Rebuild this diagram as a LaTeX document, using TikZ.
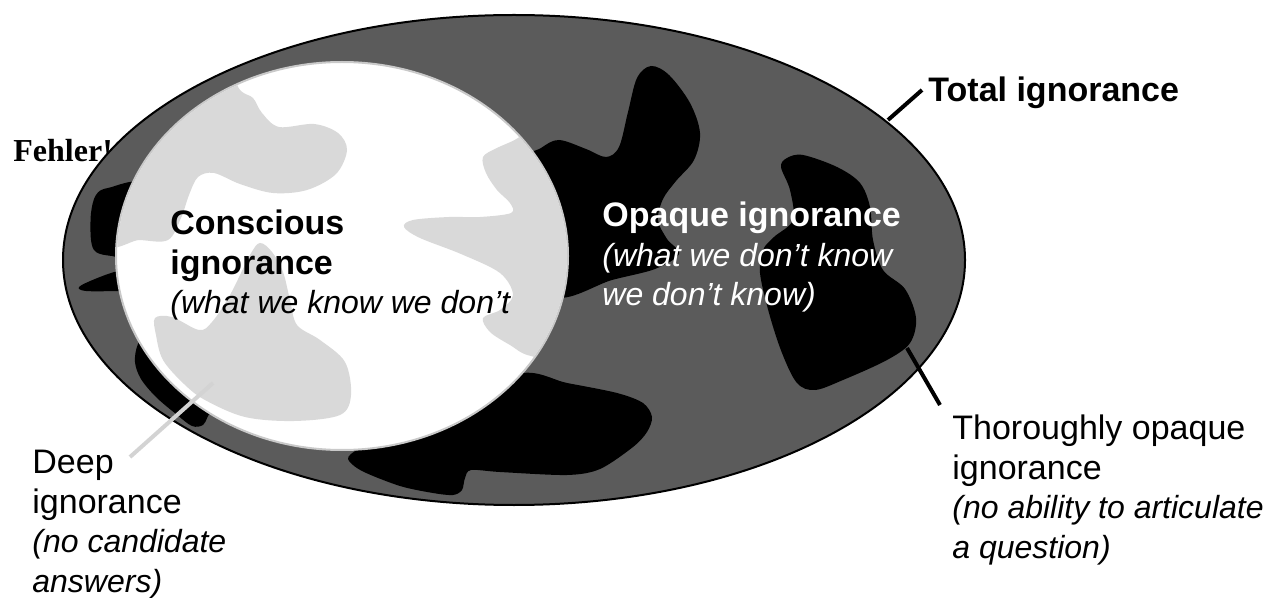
\documentclass[tikz,border=0pt]{standalone}
\usepackage{fontspec}
\setmainfont{Liberation Sans}
\newfontfamily\fehlerfont{Liberation Serif}
\usepackage{tikz}
\usetikzlibrary{positioning}

\definecolor{outergray}{HTML}{5B5B5B}
\definecolor{patchgray}{HTML}{D9D9D9}
\definecolor{rimgray}{HTML}{C9C9C9}
\definecolor{leadgray}{HTML}{D3D3D3}
\newcommand{\smit}{\fontsize{16}{19.75}\selectfont\itshape}

\begin{document}
\begin{tikzpicture}[x=0.5pt, y=-0.5pt,
    txt/.style={anchor=base west, inner sep=0pt, align=left, font=\fontsize{17}{19.75}\selectfont},
    lead/.style={line width=2pt},
    blob/.style={fill=black},
    patch/.style={fill=patchgray}]
  \useasboundingbox (0,0) rectangle (1273,598);

  % broken cross-reference, hidden behind the big ellipse
  \node[txt, font=\fehlerfont\bfseries\fontsize{16}{19}\selectfont] (fehler) at (13,162) {Fehler!};

  % total ignorance
  \filldraw[fill=outergray, draw=black, line width=1pt] (514,260) ellipse [x radius=225.5pt, y radius=122.5pt];

  % opaque regions
  \fill[blob] plot[smooth cycle, tension=0.55] coordinates {(145,186) (108,188) (96,195) (91,213) (91,240) (96,252) (112,256) (145,258)};
  \fill[blob] plot[smooth cycle, tension=0.55] coordinates {(145,267) (118,271) (95,279) (79,287) (86,291) (118,291) (145,290)};
  \fill[blob] plot[smooth cycle, tension=0.55] coordinates {(150,328) (138,344) (135,362) (141,379) (156,397) (176,414) (192,426) (203,425) (208,416) (218,395) (175,340)};
  \fill[blob] plot[smooth cycle, tension=0.55] coordinates {(520,165) (541,148) (559,140) (586,149) (606,157) (619,147) (628,112) (637,78) (651,66) (669,75) (690,103) (700,133) (694,160) (676,181) (663,199) (658,220) (667,239) (679,254) (655,269) (612,280) (555,296) (535,230)};
  \fill[blob] plot[smooth cycle, tension=0.55] coordinates {(787,158) (803,155) (837,167) (860,183) (870,207) (873,240) (883,270) (905,289) (916,318) (910,343) (887,360) (843,380) (815,390) (797,383) (782,353) (769,313) (760,273) (763,250) (774,237) (793,220) (790,190) (781,167)};
  \fill[blob] plot[smooth cycle, tension=0.5] coordinates {(420,420) (517,374) (567,383) (617,393) (643,403) (652,417) (647,432) (633,447) (600,469) (567,475) (500,472) (471,470) (465,478) (462,490) (453,495) (433,493) (400,486) (362,471) (348,459) (357,450) (375,446)};

  % conscious ignorance
  \filldraw[fill=white, draw=rimgray, line width=1pt] (342,256) ellipse [x radius=113pt, y radius=97pt];
  \begin{scope}
    \clip (342,256) ellipse [x radius=112.5pt, y radius=96.5pt];
    \fill[patch] plot[smooth cycle, tension=0.55] coordinates {(215,60) (240,90) (253,98) (262,113) (279,127) (314,124) (338,133) (347,150) (336,174) (307,190) (273,193) (240,184) (214,173) (198,177) (189,195) (181,218) (168,240) (140,240) (100,236) (100,80)};
    \fill[patch] plot[smooth cycle, tension=0.55] coordinates {(540,120) (518,138) (497,148) (483,157) (486,173) (497,190) (510,203) (511,213) (480,217) (449,217) (413,220) (404,227) (420,238) (461,254) (500,273) (513,295) (500,310) (483,318) (490,332) (510,345) (531,356) (580,360) (600,250) (580,130)};
    \fill[patch] plot[smooth cycle, tension=0.55] coordinates {(260,243) (272,252) (283,272) (290,300) (297,325) (320,340) (345,362) (351,395) (340,415) (294,421) (245,417) (205,400) (184,384) (163,360) (156,335) (155,318) (172,317) (199,330) (212,322) (230,295) (250,255)};
  \end{scope}

  % multi-line labels sit on the baseline of their last line
  \node[txt] (con) at (170,314) {{\bfseries Conscious}\\{\bfseries ignorance}\\{\smit (what we know we don’t}};
  \node[txt, text=white] (opq) at (602,306) {{\bfseries Opaque ignorance}\\{\smit (what we don’t know}\\{\smit we don’t know)}};
  \node[txt, font=\bfseries\fontsize{17}{19.75}\selectfont] (tot) at (928,102) {Total ignorance};
  \node[txt] (tho) at (952,558) {Thoroughly opaque\\ignorance\\{\smit (no ability to articulate}\\{\smit a question)}};
  \node[txt] (deep) at (32,592) {Deep\\ignorance\\{\smit (no candidate}\\{\smit answers)}};

  % leaders
  \coordinate (totA) at (922,90);
  \coordinate (totB) at (888,120);
  \coordinate (thoA) at (907,348);
  \coordinate (thoB) at (940,405);
  \coordinate (deepA) at (213,383);
  \coordinate (deepB) at (130,457);
  \draw[lead] (totA) -- (totB);
  \draw[lead] (thoA) -- (thoB);
  \draw[lead, leadgray] (deepA) -- (deepB);
\end{tikzpicture}
\end{document}
